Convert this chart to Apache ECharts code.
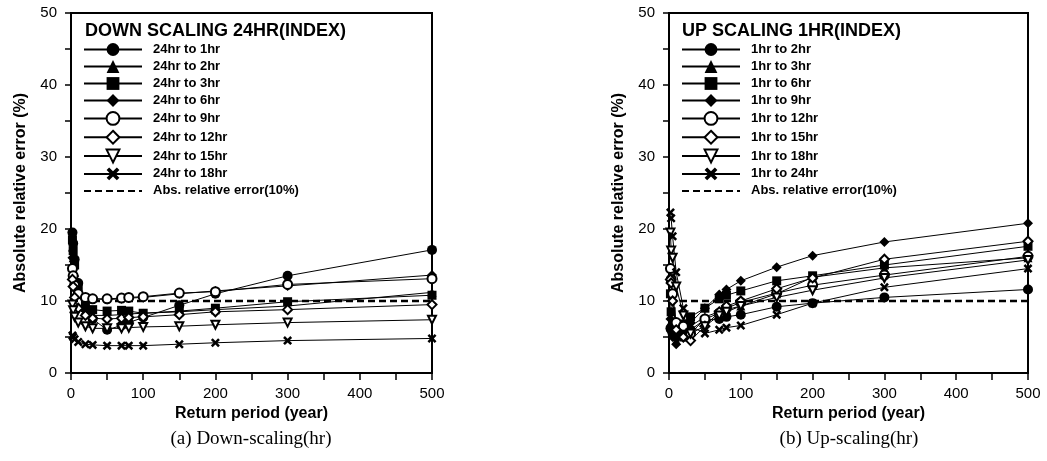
<!DOCTYPE html>
<html>
<head>
<meta charset="utf-8">
<script src="https://cdn.jsdelivr.net/npm/echarts@6/dist/echarts.min.js"></script>
<style>
html,body{margin:0;padding:0;background:#fff;}
#chart{width:1047px;height:461px;}
</style>
</head>
<body>
<div id="chart"></div>
<script>
// Return periods (year)
const returnPeriods = [2, 3, 5, 10, 20, 30, 50, 70, 80, 100, 150, 200, 300, 500];
const xTicks = [0, 100, 200, 300, 400, 500];
const yTicks = [0, 10, 20, 30, 40, 50];
const thresholdValue = 10;

// (a) Down-scaling 24hr
const downNames = ['24hr to 1hr', '24hr to 2hr', '24hr to 3hr', '24hr to 6hr', '24hr to 9hr', '24hr to 12hr', '24hr to 15hr', '24hr to 18hr'];
const down_1hr  = [19.5, 18.0, 15.8, 12.5, 9.0, 7.5, 6.0, 6.6, 7.0, 7.7, 9.4, 11.0, 13.5, 17.1];
const down_2hr  = [17.5, 16.0, 14.0, 11.0, 8.8, 8.0, 8.0, 8.1, 8.2, 8.3, 8.5, 8.8, 9.3, 11.2];
const down_3hr  = [18.5, 17.0, 15.0, 12.0, 9.8, 8.8, 8.6, 8.7, 8.6, 8.3, 8.6, 9.0, 9.9, 10.8];
const down_6hr  = [16.0, 14.5, 13.0, 11.2, 10.4, 10.3, 10.2, 10.3, 10.4, 10.5, 11.0, 11.4, 12.1, 13.6];
const down_9hr  = [14.5, 13.5, 12.2, 11.0, 10.5, 10.3, 10.3, 10.4, 10.5, 10.6, 11.1, 11.3, 12.3, 13.1];
const down_12hr = [13.0, 12.0, 10.5, 9.0, 8.0, 7.6, 7.5, 7.6, 7.7, 7.8, 8.1, 8.5, 8.8, 9.5];
const down_15hr = [9.5, 8.7, 7.8, 7.0, 6.5, 6.2, 6.2, 6.2, 6.3, 6.4, 6.5, 6.7, 7.0, 7.4];
const down_18hr = [5.2, 5.0, 4.7, 4.3, 4.0, 3.9, 3.8, 3.8, 3.8, 3.8, 4.0, 4.2, 4.5, 4.8];
const downSeries = [down_1hr, down_2hr, down_3hr, down_6hr, down_9hr, down_12hr, down_15hr, down_18hr];

// (b) Up-scaling 1hr
const upNames = ['1hr to 2hr', '1hr to 3hr', '1hr to 6hr', '1hr to 9hr', '1hr to 12hr', '1hr to 15hr', '1hr to 18hr', '1hr to 24hr'];
const up_2hr  = [6.2, 6.0, 5.5, 5.0, 5.5, 6.0, 7.4, 7.5, 7.8, 8.1, 9.2, 9.7, 10.5, 11.6];
const up_3hr  = [7.0, 6.5, 5.5, 4.5, 5.0, 6.5, 7.8, 8.5, 8.8, 9.3, 11.0, 13.3, 14.6, 16.0];
const up_6hr  = [11.0, 8.5, 7.0, 6.0, 6.8, 7.8, 9.0, 10.3, 10.8, 11.4, 12.8, 13.5, 15.0, 17.6];
const up_9hr  = [7.5, 6.0, 5.0, 4.0, 5.5, 7.0, 9.0, 10.9, 11.6, 12.8, 14.7, 16.3, 18.2, 20.8];
const up_12hr = [14.5, 13.0, 11.0, 7.0, 6.5, 5.5, 7.5, 8.3, 9.0, 9.8, 11.1, 12.2, 13.6, 16.2];
const up_15hr = [13.0, 12.5, 10.0, 6.0, 5.0, 4.5, 6.5, 8.5, 9.3, 10.0, 11.7, 13.2, 15.8, 18.3];
const up_18hr = [19.5, 17.0, 16.0, 12.0, 8.0, 5.5, 6.5, 8.0, 8.5, 9.3, 10.5, 11.5, 13.2, 15.7];
const up_24hr = [22.3, 21.5, 19.0, 14.0, 9.0, 6.5, 5.5, 6.0, 6.3, 6.6, 8.1, 9.7, 11.9, 14.5];
const upSeries = [up_2hr, up_3hr, up_6hr, up_9hr, up_12hr, up_15hr, up_18hr, up_24hr];

const thresholdName = 'Abs. relative error(10%)';
const titles = ['DOWN SCALING 24HR(INDEX)', 'UP SCALING 1HR(INDEX)'];
const captions = ['(a) Down-scaling(hr)', '(b) Up-scaling(hr)'];
const xName = 'Return period (year)';
const yName = 'Absolute relative error (%)';

const XPATH = 'path://M0,2 L2,0 L5,3 L8,0 L10,2 L7,5 L10,8 L8,10 L5,7 L2,10 L0,8 L3,5 Z';
const markers = [
  {symbol: 'circle', size: 10, rotate: 0, empty: false},
  {symbol: 'triangle', size: 9, rotate: 0, empty: false},
  {symbol: 'rect', size: 9, rotate: 0, empty: false},
  {symbol: 'diamond', size: 10, rotate: 0, empty: false},
  {symbol: 'emptyCircle', size: 9, rotate: 0, empty: true},
  {symbol: 'emptyDiamond', size: 9, rotate: 0, empty: true},
  {symbol: 'emptyTriangle', size: 8, rotate: 180, empty: true},
  {symbol: XPATH, size: 9, rotate: 0, empty: false}
];

const FONT = 'Liberation Sans, Arial, sans-serif';
const grids = [
  {left: 71, top: 13, width: 361, height: 360},
  {left: 669, top: 13, width: 359, height: 360}
];

function axisX(gi) {
  return {
    type: 'value', gridIndex: gi, min: xTicks[0], max: xTicks[xTicks.length - 1], interval: xTicks[1] - xTicks[0],
    axisLine: {show: true, onZero: false, lineStyle: {color: '#000', width: 2}},
    axisTick: {show: true, inside: false, length: 7, lineStyle: {color: '#000', width: 1.5}},
    minorTick: {show: true, splitNumber: 2, length: 7, lineStyle: {color: '#000', width: 1.5}},
    splitLine: {show: false},
    axisLabel: {color: '#000', fontSize: 15, fontFamily: FONT, margin: 13},
    name: xName, nameLocation: 'middle', nameGap: 32,
    nameTextStyle: {color: '#000', fontSize: 16, fontWeight: 'bold', fontFamily: FONT}
  };
}
function axisY(gi) {
  return {
    type: 'value', gridIndex: gi, min: yTicks[0], max: yTicks[yTicks.length - 1], interval: yTicks[1] - yTicks[0],
    axisLine: {show: true, onZero: false, lineStyle: {color: '#000', width: 2}},
    axisTick: {show: true, inside: false, length: 6, lineStyle: {color: '#000', width: 1.5}},
    minorTick: {show: true, splitNumber: 2, length: 6, lineStyle: {color: '#000', width: 1.5}},
    splitLine: {show: false},
    axisLabel: {color: '#000', fontSize: 15, fontFamily: FONT, margin: 14},
    name: yName, nameLocation: 'middle', nameGap: 42,
    nameTextStyle: {color: '#000', fontSize: 16, fontWeight: 'bold', fontFamily: FONT}
  };
}

const series = [];
function addSeries(gi, names, data) {
  names.forEach((nm, i) => {
    const m = markers[i];
    series.push({
      type: 'line', name: nm, xAxisIndex: gi, yAxisIndex: gi,
      data: returnPeriods.map((t, k) => [t, data[i][k]]),
      symbol: m.symbol, symbolSize: m.size, symbolRotate: m.rotate,
      showAllSymbol: true,
      lineStyle: {color: '#000', width: 1},
      itemStyle: {color: '#000', borderWidth: m.empty ? 1.3 : 0, borderColor: '#000'},
      z: 3, animation: false
    });
  });
  series.push({
    type: 'line', name: thresholdName, xAxisIndex: gi, yAxisIndex: gi,
    data: [[0, thresholdValue], [500, thresholdValue]],
    symbol: 'none',
    lineStyle: {color: '#000', width: 2.5, type: [7, 4]},
    itemStyle: {color: 'rgba(0,0,0,0)'},
    z: 2, animation: false
  });
}
addSeries(0, downNames, downSeries);
addSeries(1, upNames, upSeries);

function legend(gi, names, left) {
  return {
    orient: 'vertical', left: left, top: 43, padding: 0,
    itemWidth: 58, itemHeight: 16, itemGap: 4,
    data: names.concat([thresholdName]),
    textStyle: {color: '#000', fontSize: 13, fontWeight: 'bold', fontFamily: FONT, padding: [0, 0, 0, 6]},
    selectedMode: false,
    inactiveColor: '#000'
  };
}

const option = {
  backgroundColor: '#fff',
  animation: false,
  grid: grids.map(g => Object.assign({show: true, borderColor: '#000', borderWidth: 2, backgroundColor: 'transparent'}, g)),
  xAxis: [axisX(0), axisX(1)],
  yAxis: [axisY(0), axisY(1)],
  title: [
    {text: titles[0], left: 85, top: 22, padding: 0, textStyle: {color: '#000', fontSize: 18, fontWeight: 'bold', fontFamily: FONT}},
    {text: titles[1], left: 682, top: 22, padding: 0, textStyle: {color: '#000', fontSize: 18, fontWeight: 'bold', fontFamily: FONT}},
    {text: captions[0], left: 251, top: 430, textAlign: 'center', padding: 0, textStyle: {color: '#000', fontSize: 19, fontWeight: 'normal', fontFamily: 'Liberation Serif, serif'}},
    {text: captions[1], left: 849, top: 430, textAlign: 'center', padding: 0, textStyle: {color: '#000', fontSize: 19, fontWeight: 'normal', fontFamily: 'Liberation Serif, serif'}}
  ],
  legend: [legend(0, downNames, 83), legend(1, upNames, 681)],
  series: series
};

const chart = echarts.init(document.getElementById('chart'), null, {renderer: 'canvas'});
chart.setOption(option);
</script>
</body>
</html>
